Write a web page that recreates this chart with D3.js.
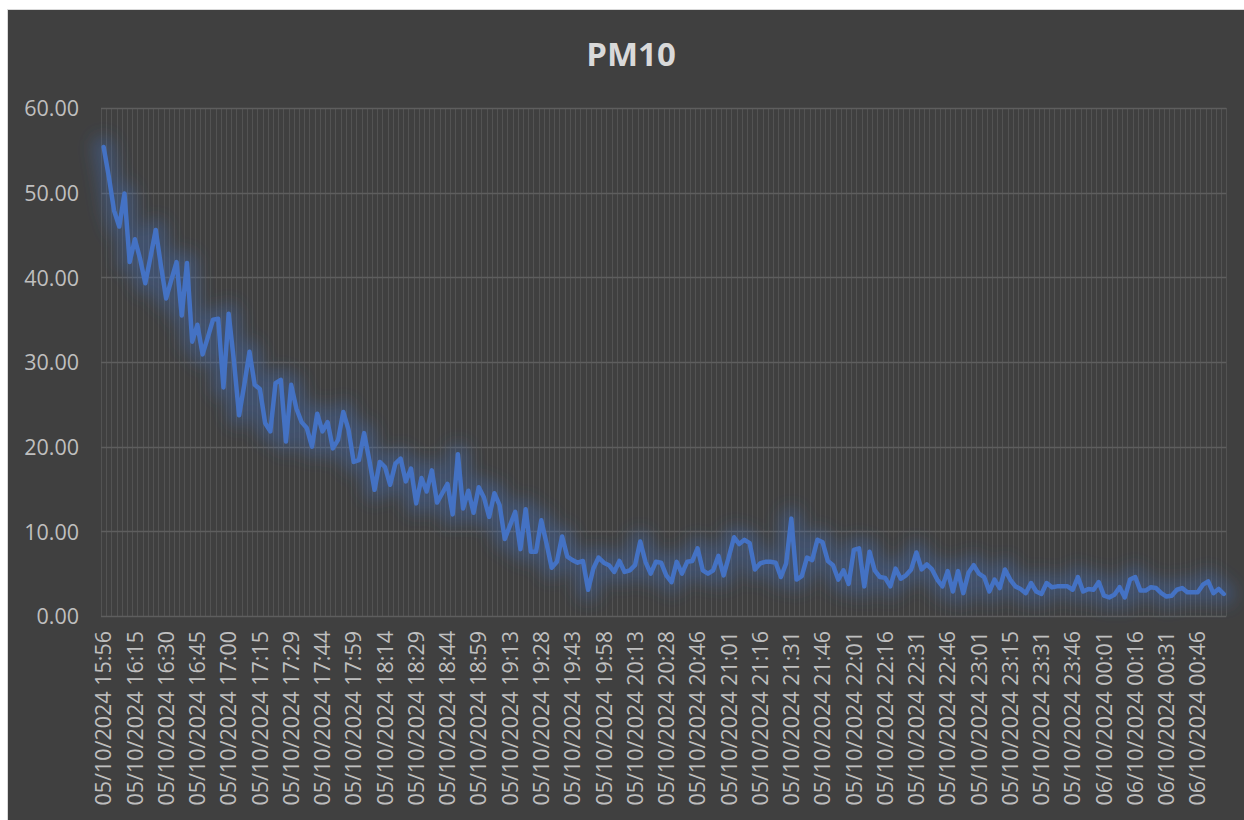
<html>
<head>
<title>PM10</title>
<script src="https://cdn.jsdelivr.net/npm/d3@7"></script>
<style>
    body { margin: 0; background: #ffffff; }
    text { font-family: "Open Sans", "Noto Sans", sans-serif; }
</style>
</head>

<body>
    <div id="chart"></div>

    <script type="text/javascript">
        // Data ***********************
        // PM10 readings, one per sample
        var pm10Values = [
            55.4, 51.9, 47.9, 46.0, 49.9, 41.8, 44.5, 42.2, 39.3, 42.4,
            45.6, 41.4, 37.5, 39.7, 41.8, 35.5, 41.7, 32.4, 34.4, 30.9,
            32.9, 35.0, 35.1, 27.0, 35.7, 30.2, 23.7, 27.3, 31.2, 27.3,
            26.8, 22.8, 21.8, 27.5, 27.9, 20.6, 27.3, 24.5, 22.9, 22.2,
            20.0, 23.9, 21.8, 22.9, 19.8, 20.8, 24.1, 22.0, 18.2, 18.4,
            21.6, 18.4, 14.9, 18.2, 17.6, 15.5, 18.0, 18.6, 15.9, 17.4,
            13.3, 16.3, 14.7, 17.2, 13.4, 14.5, 15.6, 12.0, 19.1, 12.7,
            14.8, 12.2, 15.2, 14.0, 11.7, 14.5, 13.1, 9.1, 10.7, 12.3,
            7.9, 12.6, 7.6, 7.6, 11.3, 8.6, 5.7, 6.4, 9.4, 7.0,
            6.6, 6.3, 6.5, 3.1, 5.6, 6.9, 6.3, 6.0, 5.2, 6.5,
            5.2, 5.4, 6.0, 8.8, 6.4, 5.0, 6.4, 6.3, 4.8, 4.0,
            6.4, 5.0, 6.4, 6.5, 8.0, 5.4, 5.0, 5.4, 7.1, 4.8,
            7.0, 9.3, 8.5, 9.0, 8.6, 5.5, 6.2, 6.4, 6.4, 6.3,
            4.6, 6.2, 11.5, 4.3, 4.7, 6.9, 6.6, 9.0, 8.7, 6.5,
            6.0, 4.3, 5.4, 3.8, 7.8, 8.0, 3.5, 7.6, 5.4, 4.6,
            4.5, 3.5, 5.6, 4.4, 4.8, 5.5, 7.5, 5.5, 6.1, 5.5,
            4.3, 3.5, 5.3, 2.9, 5.3, 2.7, 5.1, 6.0, 5.0, 4.6,
            2.9, 4.3, 3.3, 5.5, 4.3, 3.5, 3.2, 2.7, 3.9, 2.9,
            2.6, 3.9, 3.4, 3.5, 3.5, 3.5, 3.1, 4.6, 2.9, 3.2,
            3.1, 4.0, 2.4, 2.2, 2.5, 3.4, 2.2, 4.3, 4.6, 3.0,
            3.0, 3.4, 3.3, 2.7, 2.3, 2.4, 3.1, 3.3, 2.8, 2.8,
            2.8, 3.7, 4.1, 2.7, 3.2, 2.6
        ];

        // category labels shown on the x axis (every 6th sample)
        var tickLabels = [
            "05/10/2024 15:56", "05/10/2024 16:15", "05/10/2024 16:30", "05/10/2024 16:45",
            "05/10/2024 17:00", "05/10/2024 17:15", "05/10/2024 17:29", "05/10/2024 17:44",
            "05/10/2024 17:59", "05/10/2024 18:14", "05/10/2024 18:29", "05/10/2024 18:44",
            "05/10/2024 18:59", "05/10/2024 19:13", "05/10/2024 19:28", "05/10/2024 19:43",
            "05/10/2024 19:58", "05/10/2024 20:13", "05/10/2024 20:28", "05/10/2024 20:46",
            "05/10/2024 21:01", "05/10/2024 21:16", "05/10/2024 21:31", "05/10/2024 21:46",
            "05/10/2024 22:01", "05/10/2024 22:16", "05/10/2024 22:31", "05/10/2024 22:46",
            "05/10/2024 23:01", "05/10/2024 23:15", "05/10/2024 23:31", "05/10/2024 23:46",
            "06/10/2024 00:01", "06/10/2024 00:16", "06/10/2024 00:31", "06/10/2024 00:46"
        ];
        var labelStep = 6;

        var yTicks = [0, 10, 20, 30, 40, 50, 60];
        var chartTitle = "PM10";

        // Layout ***********************
        var W = 1244, H = 820;
        var plot = {left: 101, right: 1226.4, top: 108, bottom: 616};

        var svg = d3.select("#chart").append("svg")
            .attr("width", W)
            .attr("height", H);

        // soft glow under the line
        var defs = svg.append("defs");
        defs.append("filter")
            .attr("id", "glow")
            .attr("x", "-5%").attr("y", "-10%")
            .attr("width", "110%").attr("height", "120%")
            .append("feGaussianBlur")
            .attr("stdDeviation", 8);

        // chart background + frame
        svg.append("rect")
            .attr("x", 7.5).attr("y", 9.5)
            .attr("width", W).attr("height", H)
            .attr("fill", "#404040")
            .attr("stroke", "#d9d9d9");

        // scales
        var x = d3.scaleBand()
            .domain(d3.range(pm10Values.length))
            .range([plot.left, plot.right]);
        var y = d3.scaleLinear()
            .domain([0, 60])
            .range([plot.bottom, plot.top]);

        // vertical gridlines, one per category
        var vLines = d3.range(pm10Values.length).map(function (i) { return x(i); });
        vLines.push(plot.right);
        svg.append("g").selectAll("line")
            .data(vLines)
            .enter().append("line")
            .attr("x1", function (d) { return Math.round(d) + 0.5; })
            .attr("x2", function (d) { return Math.round(d) + 0.5; })
            .attr("y1", plot.top)
            .attr("y2", plot.bottom)
            .attr("stroke", "#535353")
            .attr("stroke-width", 1);

        // horizontal gridlines
        svg.append("g").selectAll("line")
            .data(yTicks)
            .enter().append("line")
            .attr("x1", plot.left)
            .attr("x2", plot.right)
            .attr("y1", function (d) { return Math.round(y(d)) + 0.5; })
            .attr("y2", function (d) { return Math.round(y(d)) + 0.5; })
            .attr("stroke", "#5e5e5e")
            .attr("stroke-width", 1.3);

        // Y axis
        var yAxis = svg.append("g")
            .attr("transform", "translate(" + (plot.left - 22) + ",0)")
            .call(d3.axisLeft(y).tickValues(yTicks).tickFormat(d3.format(".2f")).tickSize(0));
        yAxis.select(".domain").remove();
        yAxis.selectAll("text")
            .attr("fill", "#bfbfbf")
            .style("font-size", "21.5px")
            .attr("x", 0)
            .attr("dy", "0.36em");

        // X axis
        var xAxis = svg.append("g")
            .attr("transform", "translate(0," + plot.bottom + ")")
            .call(d3.axisBottom(x)
                .tickValues(d3.range(0, pm10Values.length, labelStep))
                .tickFormat(function (i) { return tickLabels[i / labelStep]; })
                .tickSize(0));
        xAxis.select(".domain").remove();
        xAxis.selectAll("text")
            .attr("fill", "#bfbfbf")
            .style("font-size", "21.5px")
            .attr("transform", "rotate(-90)")
            .attr("text-anchor", "end")
            .attr("x", -15)
            .attr("y", 0)
            .attr("dy", "0.36em");

        // Line
        var line = d3.line()
            .x(function (d, i) { return x(i) + x.bandwidth() / 2; })
            .y(function (d) { return y(d); });

        svg.append("path")
            .datum(pm10Values)
            .attr("fill", "none")
            .attr("stroke", "#4472c4")
            .attr("stroke-opacity", 0.35)
            .attr("stroke-width", 22)
            .attr("stroke-linejoin", "round")
            .attr("stroke-linecap", "round")
            .attr("filter", "url(#glow)")
            .attr("d", line);

        svg.append("path")
            .datum(pm10Values)
            .attr("fill", "none")
            .attr("stroke", "#4472c4")
            .attr("stroke-width", 4.5)
            .attr("stroke-linejoin", "round")
            .attr("stroke-linecap", "round")
            .attr("d", line);

        // Title
        svg.append("text")
            .attr("x", 631)
            .attr("y", 66)
            .attr("text-anchor", "middle")
            .attr("fill", "#d9d9d9")
            .style("font-size", "33px")
            .style("font-weight", "bold")
            .text(chartTitle);
    </script>
</body>
</html>
